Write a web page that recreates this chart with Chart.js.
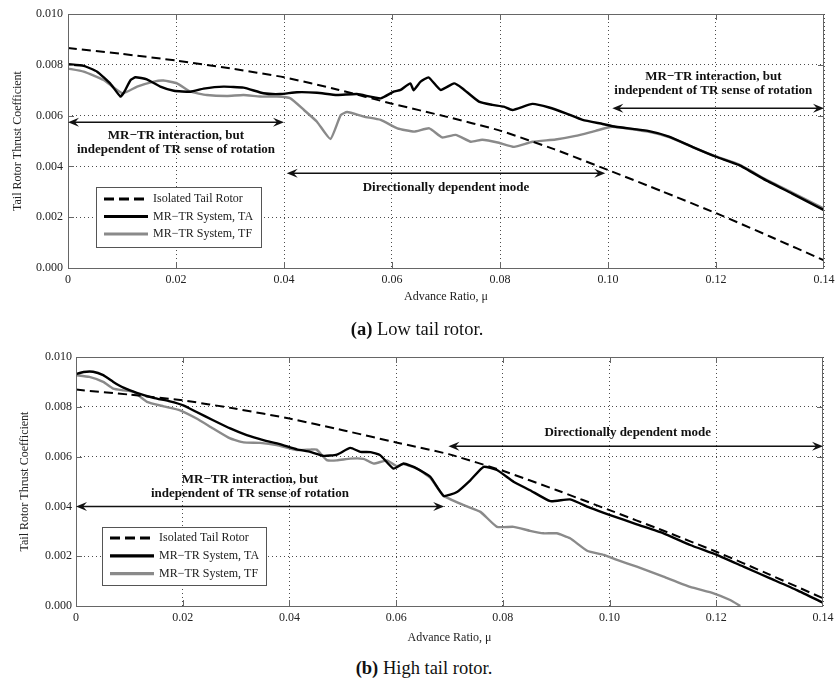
<!DOCTYPE html>
<html>
<head>
<meta charset="utf-8">
<script src="https://cdn.jsdelivr.net/npm/chart.js@4.4.1/dist/chart.umd.min.js"></script>
<style>
  html, body { margin: 0; padding: 0; background: #fff; }
  body { width: 836px; height: 682px; position: relative; overflow: hidden; }
  canvas { position: absolute; left: 0; }
  .caption { position: absolute; font: 18.5px "Liberation Serif", serif; color: #111; white-space: nowrap; transform: translate(-50%, -50%); }
</style>
</head>
<body>
<canvas id="lowChart" width="836" height="312" style="top:0"></canvas>
<canvas id="highChart" width="836" height="314" style="top:336px"></canvas>
<div class="caption" style="left:417px; top:329px"><b>(a)</b> Low tail rotor.</div>
<div class="caption" style="left:424px; top:668px"><b>(b)</b> High tail rotor.</div>
<script>
// ---- (a) low tail rotor ----
const lowIsoMu = [0, 0.01, 0.02, 0.03, 0.04, 0.05, 0.06, 0.07, 0.08, 0.09, 0.10, 0.11, 0.12, 0.13, 0.14];
const lowIsoCt = [0.00866, 0.00843, 0.00817, 0.00786, 0.00751, 0.00702, 0.00647, 0.00596, 0.00541, 0.00468, 0.00386, 0.00302, 0.00216, 0.00124, 0.00030];

const lowTaMu = [0, 0.0029, 0.0054, 0.0078, 0.0097, 0.0103, 0.0116, 0.0125, 0.0146, 0.0171, 0.0196, 0.0227, 0.0251, 0.0288, 0.0325,
  0.0362, 0.0393, 0.0424, 0.0461, 0.0498, 0.0535, 0.0579, 0.0603, 0.0616, 0.0634, 0.0640, 0.0653, 0.0668, 0.0690, 0.0715,
  0.0730, 0.0761, 0.0786, 0.0807, 0.0823, 0.0860, 0.0891, 0.0922, 0.0953, 0.0990, 0.1014, 0.1076, 0.1113, 0.1156, 0.1200,
  0.1243, 0.1292, 0.1341, 0.1400];
const lowTaCt = [0.00802, 0.00796, 0.00773, 0.00727, 0.00675, 0.00689, 0.00740, 0.00751, 0.00743, 0.00714, 0.00698, 0.00694, 0.00706, 0.00714, 0.00710,
  0.00688, 0.00685, 0.00692, 0.00690, 0.00681, 0.00685, 0.00668, 0.00694, 0.00701, 0.00727, 0.00700, 0.00734, 0.00750, 0.00701, 0.00727,
  0.00708, 0.00655, 0.00642, 0.00635, 0.00622, 0.00646, 0.00632, 0.00609, 0.00583, 0.00567, 0.00556, 0.00539, 0.00517, 0.00477, 0.00438,
  0.00405, 0.00346, 0.00293, 0.00228];

const lowTfMu = [0, 0.0029, 0.0066, 0.0101, 0.0128, 0.0159, 0.0177, 0.0202, 0.0227, 0.0257, 0.0294, 0.0325, 0.0356, 0.0387, 0.0412,
  0.0437, 0.0461, 0.0486, 0.0505, 0.0517, 0.0548, 0.0579, 0.0610, 0.0641, 0.0669, 0.0693, 0.0718, 0.0746, 0.0767, 0.0798,
  0.0826, 0.0860, 0.0903, 0.0940, 0.0977, 0.1008, 0.1076, 0.1113, 0.1156, 0.1200, 0.1243, 0.1292, 0.1341, 0.1400];
const lowTfCt = [0.00785, 0.00773, 0.00740, 0.00688, 0.00714, 0.00734, 0.00738, 0.00727, 0.00694, 0.00681, 0.00677, 0.00681, 0.00675, 0.00675, 0.00668,
  0.00622, 0.00576, 0.00508, 0.00602, 0.00614, 0.00596, 0.00583, 0.00550, 0.00537, 0.00550, 0.00514, 0.00524, 0.00497, 0.00505, 0.00493,
  0.00477, 0.00497, 0.00506, 0.00520, 0.00540, 0.00556, 0.00536, 0.00515, 0.00477, 0.00439, 0.00407, 0.00349, 0.00297, 0.00234];

// ---- (b) high tail rotor ----
const highIsoMu = [0, 0.01, 0.02, 0.03, 0.04, 0.05, 0.06, 0.07, 0.08, 0.09, 0.10, 0.11, 0.12, 0.13, 0.14];
const highIsoCt = [0.00869, 0.00849, 0.00826, 0.00792, 0.00753, 0.00706, 0.00657, 0.00609, 0.00543, 0.00466, 0.00385, 0.00303, 0.00218, 0.00126, 0.00031];

const highTaMu = [0, 0.0014, 0.0032, 0.0051, 0.0070, 0.0089, 0.0114, 0.0145, 0.0176, 0.0201, 0.0226, 0.0257, 0.0289, 0.0320, 0.0351,
  0.0382, 0.0414, 0.0439, 0.0464, 0.0489, 0.0514, 0.0533, 0.0552, 0.0570, 0.0595, 0.0614, 0.0639, 0.0664, 0.0689, 0.0714,
  0.0739, 0.0764, 0.0789, 0.0820, 0.0851, 0.0889, 0.0926, 0.0964, 0.1001, 0.1051, 0.1101, 0.1151, 0.1201, 0.1251, 0.1301,
  0.1351, 0.1400];
const highTaCt = [0.00931, 0.00940, 0.00941, 0.00927, 0.00900, 0.00877, 0.00856, 0.00836, 0.00822, 0.00806, 0.00779, 0.00746, 0.00713, 0.00686, 0.00666,
  0.00650, 0.00629, 0.00619, 0.00603, 0.00608, 0.00635, 0.00619, 0.00618, 0.00606, 0.00552, 0.00572, 0.00552, 0.00519, 0.00442, 0.00458,
  0.00505, 0.00559, 0.00546, 0.00499, 0.00465, 0.00421, 0.00428, 0.00394, 0.00365, 0.00328, 0.00292, 0.00245, 0.00205, 0.00158, 0.00111,
  0.00064, 0.00013];

const highTfMu = [0, 0.0025, 0.0051, 0.0070, 0.0089, 0.0108, 0.0133, 0.0164, 0.0195, 0.0226, 0.0257, 0.0289, 0.0314, 0.0345, 0.0376,
  0.0414, 0.0439, 0.0451, 0.0470, 0.0489, 0.0514, 0.0539, 0.0558, 0.0583, 0.0601, 0.0614, 0.0639, 0.0664, 0.0689, 0.0727,
  0.0758, 0.0789, 0.0820, 0.0851, 0.0876, 0.0901, 0.0926, 0.0958, 0.0989, 0.1014, 0.1051, 0.1101, 0.1151, 0.1195, 0.1226,
  0.1245];
const highTfCt = [0.00927, 0.00920, 0.00900, 0.00873, 0.00866, 0.00860, 0.00820, 0.00802, 0.00786, 0.00753, 0.00713, 0.00673, 0.00657, 0.00655, 0.00646,
  0.00626, 0.00628, 0.00628, 0.00586, 0.00585, 0.00592, 0.00591, 0.00572, 0.00585, 0.00562, 0.00570, 0.00552, 0.00514, 0.00443, 0.00405,
  0.00378, 0.00318, 0.00318, 0.00302, 0.00292, 0.00292, 0.00272, 0.00222, 0.00205, 0.00185, 0.00158, 0.00118, 0.00077, 0.00051, 0.00024,
  0.00000];

const seriesLabels = ['Isolated Tail Rotor', 'MR\u2212TR System, TA', 'MR\u2212TR System, TF'];
const xTicks = [0, 0.02, 0.04, 0.06, 0.08, 0.10, 0.12, 0.14];
const yTicks = [0, 0.002, 0.004, 0.006, 0.008, 0.010];
const noteIndependent = ['MR\u2212TR interaction, but', 'independent of TR sense of rotation'];
const noteDirectional = ['Directionally dependent mode'];

const SERIF = '"Liberation Serif", "Times New Roman", serif';
const zip = (xs, ys) => xs.map((v, i) => ({x: v, y: ys[i]}));

function makeDatasets(iso, ta, tf) {
  return [
    {label: seriesLabels[0], data: iso, borderColor: '#000', borderWidth: 2, borderDash: [9, 5]},
    {label: seriesLabels[1], data: ta, borderColor: '#000', borderWidth: 2.4},
    {label: seriesLabels[2], data: tf, borderColor: '#8a8a8a', borderWidth: 2.4}
  ];
}

function drawArrowHead(ctx, x, y, dir) {
  ctx.beginPath();
  ctx.moveTo(x, y);
  ctx.lineTo(x - dir * 11, y - 4.5);
  ctx.lineTo(x - dir * 7, y);
  ctx.lineTo(x - dir * 11, y + 4.5);
  ctx.closePath();
  ctx.fill();
}

// frame, inward ticks, arrows with notes, legend
const figureDecor = {
  id: 'figureDecor',
  afterDraw(chart, args, opts) {
    const {ctx, chartArea: a} = chart;
    const xs = chart.scales.x, ys = chart.scales.y;
    ctx.save();
    ctx.strokeStyle = '#666';
    ctx.lineWidth = 1;
    ctx.strokeRect(a.left + 0.5, a.top + 0.5, a.right - a.left - 1, a.bottom - a.top);
    ctx.beginPath();
    xTicks.slice(1, -1).forEach(v => {
      const px = Math.round(xs.getPixelForValue(v)) + 0.5;
      ctx.moveTo(px, a.bottom); ctx.lineTo(px, a.bottom - 6);
      ctx.moveTo(px, a.top); ctx.lineTo(px, a.top + 6);
    });
    yTicks.slice(1, -1).forEach(v => {
      const py = Math.round(ys.getPixelForValue(v)) + 0.5;
      ctx.moveTo(a.left, py); ctx.lineTo(a.left + 6, py);
      ctx.moveTo(a.right, py); ctx.lineTo(a.right - 6, py);
    });
    ctx.stroke();

    // arrows
    ctx.strokeStyle = '#111';
    ctx.fillStyle = '#111';
    ctx.lineWidth = 1.5;
    ctx.font = 'bold 13px ' + SERIF;
    ctx.textAlign = 'center';
    ctx.textBaseline = 'middle';
    opts.arrows.forEach(ar => {
      const x1 = xs.getPixelForValue(ar.from), x2 = xs.getPixelForValue(ar.to);
      const py = ys.getPixelForValue(ar.at);
      ctx.beginPath();
      ctx.moveTo(x1 + 6, py); ctx.lineTo(x2 - 6, py);
      ctx.stroke();
      drawArrowHead(ctx, x1, py, -1);
      drawArrowHead(ctx, x2, py, 1);
      ar.lines.forEach((t, i) => {
        ctx.fillText(t, xs.getPixelForValue(ar.textAt), py + ar.textDy + i * 14.3);
      });
    });

    // legend
    const L = opts.legend;
    ctx.fillStyle = '#fff';
    ctx.fillRect(L.x, L.y, L.w, L.h);
    ctx.strokeStyle = '#555';
    ctx.lineWidth = 1;
    ctx.strokeRect(L.x + 0.5, L.y + 0.5, L.w, L.h);
    ctx.font = '12px ' + SERIF;
    ctx.textAlign = 'left';
    chart.data.datasets.forEach((ds, i) => {
      const ry = L.y + L.first + i * L.gap;
      ctx.beginPath();
      ctx.setLineDash(ds.borderDash ? [10, 5] : []);
      ctx.lineWidth = ds.borderWidth + 0.8;
      ctx.strokeStyle = ds.borderColor;
      ctx.moveTo(L.x + 8, ry);
      ctx.lineTo(L.x + 52, ry);
      ctx.stroke();
      ctx.setLineDash([]);
      ctx.fillStyle = '#222';
      ctx.fillText(ds.label, L.x + 57, ry);
    });
    ctx.restore();
  }
};

function makeChart(id, datasets, layout) {
  return new Chart(document.getElementById(id), {
    type: 'line',
    data: {datasets},
    plugins: [figureDecor],
    options: {
      responsive: false,
      animation: false,
      events: [],
      layout: {padding: {top: layout.top, right: layout.right, left: 0, bottom: 0}},
      elements: {
        point: {radius: 0},
        line: {tension: 0.15, fill: false}
      },
      plugins: {
        legend: {display: false},
        tooltip: {enabled: false},
        figureDecor: {arrows: layout.arrows, legend: layout.legend}
      },
      scales: {
        x: {
          type: 'linear',
          min: 0,
          max: 0.14,
          afterBuildTicks: s => { s.ticks = xTicks.map(v => ({value: v})); },
          afterFit: s => { s.height = 44; s.paddingLeft = 0; s.paddingRight = 0; },
          grid: {color: 'rgba(0,0,0,0.7)', lineWidth: 1, drawTicks: false},
          border: {display: false, dash: [1, 3]},
          ticks: {
            padding: 5,
            color: '#222',
            font: {family: SERIF, size: 12},
            maxRotation: 0,
            callback: v => v === 0 ? '0' : v.toFixed(2)
          },
          title: {
            display: true,
            text: 'Advance Ratio, \u03bc',
            color: '#222',
            font: {family: SERIF, size: 12},
            padding: {top: 0, bottom: layout.xTitlePad}
          }
        },
        y: {
          min: 0,
          max: 0.010,
          afterBuildTicks: s => { s.ticks = yTicks.map(v => ({value: v})); },
          afterFit: s => { s.width = layout.left; },
          grid: {color: 'rgba(0,0,0,0.7)', lineWidth: 1, drawTicks: false},
          border: {display: false, dash: [1, 3]},
          ticks: {
            padding: layout.yTickPad,
            color: '#222',
            font: {family: SERIF, size: 12},
            callback: v => v.toFixed(3)
          },
          title: {
            display: true,
            text: 'Tail Rotor Thrust Coefficient',
            color: '#222',
            font: {family: SERIF, size: 12},
            padding: {top: layout.yTitlePad, bottom: 0}
          }
        }
      }
    }
  });
}

makeChart('lowChart',
  makeDatasets(zip(lowIsoMu, lowIsoCt), zip(lowTaMu, lowTaCt), zip(lowTfMu, lowTfCt)),
  {
    top: 14, right: 12, left: 68, xTitlePad: 8, yTitlePad: 11, yTickPad: 5,
    arrows: [
      {from: 0, to: 0.04, at: 0.00574, textAt: 0.02, textDy: 13, lines: noteIndependent},
      {from: 0.0405, to: 0.0995, at: 0.00373, textAt: 0.07, textDy: 14, lines: noteDirectional},
      {from: 0.1008, to: 0.14, at: 0.00629, textAt: 0.1195, textDy: -32, lines: noteIndependent}
    ],
    legend: {x: 96, y: 187, w: 165, h: 60, first: 12, gap: 17.5}
  });

makeChart('highChart',
  makeDatasets(zip(highIsoMu, highIsoCt), zip(highTaMu, highTaCt), zip(highTfMu, highTfCt)),
  {
    top: 21, right: 13, left: 76, xTitlePad: 5, yTitlePad: 18, yTickPad: 4,
    arrows: [
      {from: 0, to: 0.069, at: 0.0040, textAt: 0.0326, textDy: -27, lines: noteIndependent},
      {from: 0.0698, to: 0.14, at: 0.00642, textAt: 0.1034, textDy: -14, lines: noteDirectional}
    ],
    legend: {x: 102, y: 191, w: 164, h: 58, first: 11, gap: 17.8}
  });
</script>
</body>
</html>
